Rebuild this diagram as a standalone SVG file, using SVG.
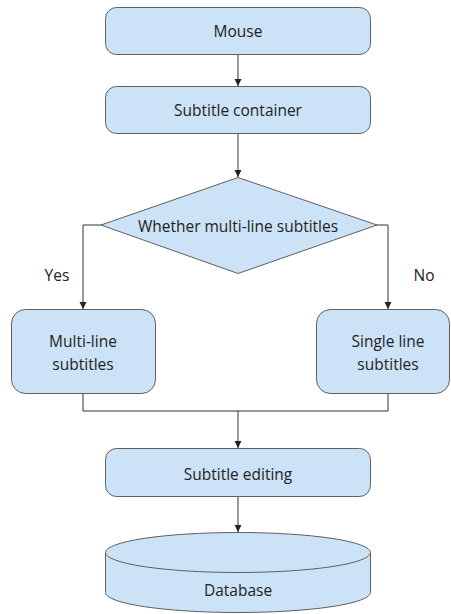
<svg xmlns="http://www.w3.org/2000/svg" width="451" height="614" viewBox="0 0 451 614">
<style>
.box{fill:#cce3f7;stroke:#5f5f5f;stroke-width:1}
.t{font-family:"Open Sans","Noto Sans",sans-serif;font-size:15.5px;fill:#222;text-anchor:middle;dominant-baseline:central}
.c{fill:none;stroke:#333;stroke-width:1}
</style>
<defs>
<marker id="a" markerWidth="10" markerHeight="10" refX="8" refY="5" orient="auto" markerUnits="userSpaceOnUse">
<path d="M1,1.5 L8,5 L1,8.5 Z" fill="#222"/>
</marker>
</defs>
<rect width="451" height="614" fill="#fff"/>
<g id="connectors">
<path class="c" d="M238,54 V86" marker-end="url(#a)"/>
<path class="c" d="M238,133 V177" marker-end="url(#a)"/>
<path class="c" d="M101,225 H83 V309" marker-end="url(#a)"/>
<path class="c" d="M376,225 H388 V309" marker-end="url(#a)"/>
<path class="c" d="M83,393 V411 H388 V393"/>
<path class="c" d="M238,411 V448" marker-end="url(#a)"/>
<path class="c" d="M238,497 V532" marker-end="url(#a)"/>
</g>
<g id="mouse">
<rect class="box" x="105.5" y="7.5" width="265" height="47" rx="11"/>
<text class="t" x="238" y="31">Mouse</text>
</g>
<g id="container">
<rect class="box" x="105.5" y="86.5" width="265" height="47" rx="11"/>
<text class="t" x="238" y="110">Subtitle container</text>
</g>
<g id="decision">
<polygon class="box" points="238,177.5 377,225 238,273.5 101,225"/>
<text class="t" x="238" y="226">Whether multi-line subtitles</text>
</g>
<g id="labels">
<text class="t" x="57" y="275">Yes</text>
<text class="t" x="424" y="275">No</text>
</g>
<g id="multi">
<rect class="box" x="11.5" y="309.5" width="144" height="84" rx="14"/>
<text class="t" x="83" y="341">Multi-line</text>
<text class="t" x="83" y="364">subtitles</text>
</g>
<g id="single">
<rect class="box" x="316.5" y="309.5" width="133" height="84" rx="14"/>
<text class="t" x="388" y="341">Single line</text>
<text class="t" x="388" y="364">subtitles</text>
</g>
<g id="editing">
<rect class="box" x="105.5" y="448.5" width="265" height="48" rx="11"/>
<text class="t" x="238" y="474">Subtitle editing</text>
</g>
<g id="database">
<path class="box" d="M105.5,552.5 A132.5,20 0 0 1 370.5,552.5 V592.5 A132.5,20 0 0 1 105.5,592.5 Z"/>
<path class="box" d="M105.5,552.5 A132.5,20 0 0 0 370.5,552.5" fill="none"/>
<text class="t" x="238" y="590">Database</text>
</g>
</svg>
